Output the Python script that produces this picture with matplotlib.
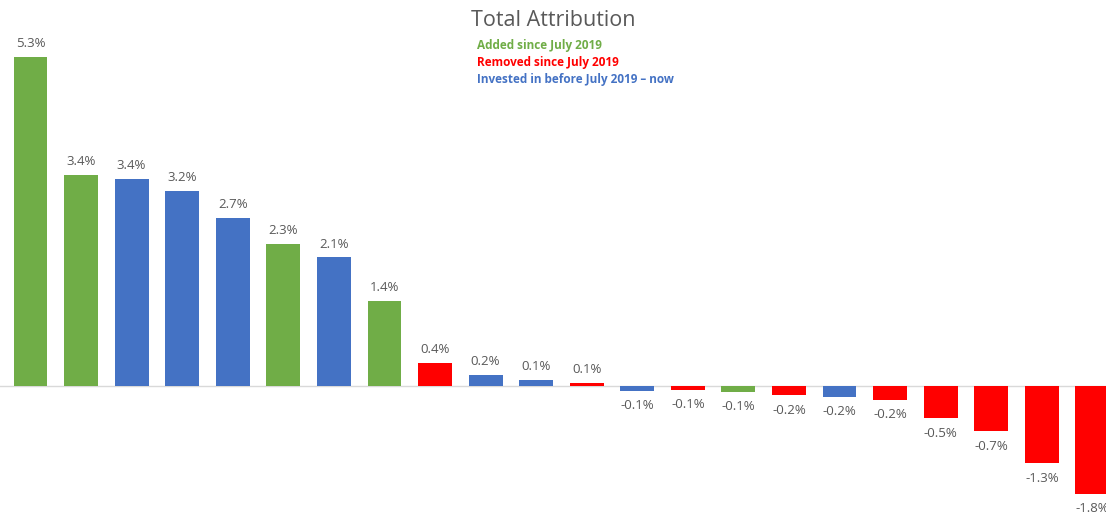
import matplotlib.pyplot as plt

# attribution per holding, in percent
values = [5.33, 3.42, 3.35, 3.16, 2.72, 2.30, 2.08, 1.37, 0.36, 0.17, 0.09, 0.05,
          -0.08, -0.07, -0.10, -0.16, -0.18, -0.23, -0.53, -0.74, -1.26, -1.76]
groups = ["added", "added", "invested", "invested", "invested", "added", "invested", "added",
          "removed", "invested", "invested", "removed", "invested", "removed", "added",
          "removed", "invested", "removed", "removed", "removed", "removed", "removed"]

legend_labels = ["Added since July 2019", "Removed since July 2019",
                 "Invested in before July 2019 \u2013 now"]
legend_groups = ["added", "removed", "invested"]

colors = {"added": "#70AD47", "removed": "#FF0000", "invested": "#4472C4"}
text_gray = "#595959"

plt.rcParams['font.family'] = ['Open Sans', 'DejaVu Sans']

fig = plt.figure(figsize=(11.06, 5.15), dpi=100)
ax = fig.add_axes([0, 0, 1, 1])

x = list(range(len(values)))
ax.bar(x, values, width=0.67, color=[colors[g] for g in groups], zorder=2)
ax.axhline(0, color="#D9D9D9", linewidth=1, zorder=1)

for xi, v in zip(x, values):
    if v >= 0:
        ax.annotate(f"{v:.1f}%", (xi, v), xytext=(0, 5), textcoords="offset points",
                    ha="center", va="bottom", fontsize=9.5, color=text_gray)
    else:
        ax.annotate(f"{v:.1f}%", (xi, v), xytext=(0, -6), textcoords="offset points",
                    ha="center", va="top", fontsize=9.5, color=text_gray)

# place the data so the bars land where they do in the original
ax.set_xlim(-0.603, 21.27)
px = 61.6  # pixels per percent
ax.set_ylim(-(515 - 385.6) / px, 385.6 / px)
ax.axis("off")

fig.text(553 / 1106, 1 - 20 / 515, "Total Attribution", ha="center", va="center",
         fontsize=15.5, color=text_gray)
for i, (lab, g) in enumerate(zip(legend_labels, legend_groups)):
    fig.text(477 / 1106, 1 - (46 + 16.5 * i) / 515, lab, ha="left", va="center",
             fontsize=8.5, fontweight="bold", color=colors[g])

fig.savefig("out.png", dpi=100)
